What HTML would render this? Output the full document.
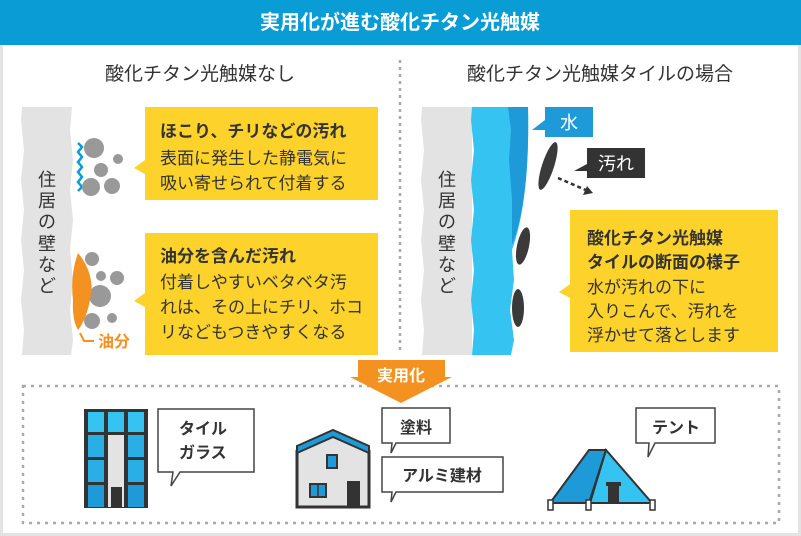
<!DOCTYPE html>
<html><head><meta charset="utf-8"><style>
body{margin:0;width:801px;height:536px;overflow:hidden;background:#fff;font-family:"Liberation Sans","Noto Sans CJK JP",sans-serif;}
</style></head><body>
<svg width="801" height="536" viewBox="0 0 801 536" xmlns="http://www.w3.org/2000/svg" style="font-family:'Liberation Sans','Noto Sans CJK JP',sans-serif;display:block">
<rect x="1.5" y="1.5" width="798" height="533" fill="#fff" stroke="#e3e3e3" stroke-width="3"/>
<rect x="0" y="0" width="801" height="45" fill="#0a9cd5"/>
<text x="400" y="29" font-size="20" font-weight="bold" fill="#fff" text-anchor="middle">実用化が進む酸化チタン光触媒</text>
<text x="200" y="80" font-size="19" fill="#333" text-anchor="middle">酸化チタン光触媒なし</text>
<text x="600" y="80" font-size="19" fill="#333" text-anchor="middle">酸化チタン光触媒タイルの場合</text>
<line x1="400" y1="60" x2="400" y2="352" stroke="#aaa" stroke-width="2.5" stroke-dasharray="3,4"/>

<!-- left wall -->
<path d="M22 107 L72 107 L70 130 L73 160 L70 190 L73 220 L70 250 L73 280 L70 310 L73 340 L71 355 L22 355 L24 330 L21 300 L24 270 L21 240 L24 210 L21 180 L24 150 L21 120 Z" fill="#e3e3e3"/>
<text font-size="18" fill="#333" text-anchor="middle"><tspan x="47" y="186">住</tspan><tspan x="47" y="207">居</tspan><tspan x="47" y="228">の</tspan><tspan x="47" y="250">壁</tspan><tspan x="47" y="271">な</tspan><tspan x="47" y="292">ど</tspan></text>
<path d="M78 143 l4 4 -4 5 4 5 -4 5 4 5 -4 5 4 5 -4 5 4 5 -4 4" fill="none" stroke="#0a9cd5" stroke-width="2.5"/>
<g fill="#999">
<circle cx="94" cy="148" r="10"/><circle cx="118" cy="159" r="5"/><circle cx="101" cy="170" r="7"/><circle cx="91" cy="187" r="9"/><circle cx="112" cy="186" r="8"/>
<circle cx="92" cy="259" r="7"/><circle cx="101" cy="276" r="5"/><circle cx="117" cy="278" r="7"/><circle cx="100" cy="296" r="11"/><circle cx="92" cy="321" r="8"/><circle cx="112" cy="318" r="5"/>
</g>
<path d="M78 253 Q96 275 90 300 Q86 320 78 330 Q72 320 73 300 Q70 275 78 253Z" fill="#f39220"/>
<path d="M80 333 L84 341 L94 341" fill="none" stroke="#f39220" stroke-width="2"/>
<text x="98" y="347" font-size="16" font-weight="bold" fill="#f39220">油分</text>

<rect x="145" y="107" width="233" height="93" fill="#fdd32b"/>
<path d="M145 160 L134 168 L145 174Z" fill="#fdd32b"/>
<text x="160" y="137" font-size="17" font-weight="bold" fill="#333">ほこり、チリなどの汚れ</text>
<text x="160" y="164" font-size="17" fill="#333">表面に発生した静電気に</text>
<text x="160" y="189" font-size="17" fill="#333">吸い寄せられて付着する</text>

<rect x="145" y="233" width="233" height="122" fill="#fdd32b"/>
<path d="M145 293 L134 301 L145 307Z" fill="#fdd32b"/>
<text x="160" y="262" font-size="17" font-weight="bold" fill="#333">油分を含んだ汚れ</text>
<text x="160" y="288" font-size="17" fill="#333">付着しやすいベタベタ汚</text>
<text x="160" y="313" font-size="17" fill="#333">れは、その上にチリ、ホコ</text>
<text x="160" y="338" font-size="17" fill="#333">リなどもつきやすくなる</text>

<!-- right wall -->
<path d="M422 107 L472 107 L472 355 L422 355 L424 330 L421 300 L424 270 L421 240 L424 210 L421 180 L424 150 L421 120 Z" fill="#e3e3e3"/>
<path d="M472 107 L528 107 Q530 200 512 250 L514 280 L510 310 L514 340 L511 355 L472 355 L474 330 L471 300 L474 270 L471 240 L474 210 L471 180 L474 150 L471 120Z" fill="#35c4f1"/>
<path d="M508 107 L528 107 Q530 200 512 245 L512 200 L509 160 L511 130Z" fill="#1e9ad8"/>
<text font-size="18" fill="#333" text-anchor="middle"><tspan x="447" y="186">住</tspan><tspan x="447" y="207">居</tspan><tspan x="447" y="228">の</tspan><tspan x="447" y="250">壁</tspan><tspan x="447" y="271">な</tspan><tspan x="447" y="292">ど</tspan></text>
<g fill="#3a3a3a">
<ellipse cx="548" cy="166" rx="6" ry="25" transform="rotate(18 548 166)"/>
<ellipse cx="523" cy="246" rx="6" ry="19" transform="rotate(12 523 246)"/>
<ellipse cx="518" cy="308" rx="6" ry="19"/>
</g>
<rect x="545" y="107" width="48" height="30" fill="#1e9ad8"/>
<path d="M545 120 L532 130 L545 130Z" fill="#1e9ad8"/>
<text x="569" y="129" font-size="18" fill="#fff" text-anchor="middle">水</text>
<rect x="587" y="148" width="58" height="30" fill="#333"/>
<path d="M587 164 L574 171 L587 171Z" fill="#333"/>
<text x="616" y="170" font-size="18" fill="#fff" text-anchor="middle">汚れ</text>
<line x1="558" y1="178" x2="588" y2="191" stroke="#333" stroke-width="2.5" stroke-dasharray="4,3"/>
<path d="M593 193 L583 195 L587 186Z" fill="#333"/>

<rect x="570" y="210" width="208" height="142" fill="#fdd32b"/>
<path d="M570 284 L559 292 L570 298Z" fill="#fdd32b"/>
<text x="587" y="244" font-size="17" font-weight="bold" fill="#333">酸化チタン光触媒</text>
<text x="587" y="268" font-size="17" font-weight="bold" fill="#333">タイルの断面の様子</text>
<text x="587" y="293" font-size="17" fill="#333">水が汚れの下に</text>
<text x="587" y="317" font-size="17" fill="#333">入りこんで、汚れを</text>
<text x="587" y="341" font-size="17" fill="#333">浮かせて落とします</text>

<!-- bottom -->
<rect x="23" y="386" width="756" height="137" fill="none" stroke="#aaa" stroke-width="2.5" stroke-dasharray="3,5"/>
<path d="M358 360 L445 360 L445 377 L452 377 L401 403 L350 377 L358 377Z" fill="#f39220"/>
<text x="401" y="381" font-size="16" font-weight="bold" fill="#fff" text-anchor="middle">実用化</text>

<!-- building -->
<rect x="84" y="409" width="64" height="99" fill="#333"/>
<rect x="88" y="412" width="16" height="20" fill="#35c4f1"/><rect x="108" y="412" width="16" height="20" fill="#35c4f1"/><rect x="128" y="412" width="16" height="20" fill="#35c4f1"/>
<rect x="88" y="435" width="16" height="22" fill="#2aaee6"/><rect x="128" y="435" width="16" height="22" fill="#2aaee6"/>
<rect x="88" y="460" width="16" height="22" fill="#2aaee6"/><rect x="128" y="460" width="16" height="22" fill="#2aaee6"/>
<rect x="88" y="485" width="16" height="22" fill="#1e9ad8"/><rect x="128" y="485" width="16" height="22" fill="#1e9ad8"/>
<rect x="108" y="435" width="16" height="72" fill="#e3e3e3"/>
<rect x="111" y="487" width="11" height="20" fill="#333"/>
<path d="M158 409 L254 409 L254 472 L180 472 L171 486 L173 472 L158 472Z" fill="#fff" stroke="#444" stroke-width="1.5"/>
<text x="179" y="434" font-size="16" font-weight="bold" fill="#333">タイル</text>
<text x="179" y="458" font-size="16" font-weight="bold" fill="#333">ガラス</text>

<!-- house -->
<path d="M297 451 L333 433 L369 451 L369 507 L297 507Z" fill="#e3e3e3" stroke="#333" stroke-width="3"/>
<path d="M297 446 L333 430 L369 446 L369 453 L333 437 L297 453Z" fill="#1e9ad8" stroke="#333" stroke-width="2"/>
<rect x="327" y="455" width="10" height="13" fill="#1e9ad8" stroke="#333" stroke-width="2"/>
<rect x="310" y="484" width="16" height="13" fill="#1e9ad8" stroke="#333" stroke-width="2"/>
<line x1="318" y1="484" x2="318" y2="497" stroke="#333" stroke-width="1.5"/>
<rect x="347" y="481" width="13" height="26" fill="#333"/>
<path d="M382 408 L450 408 L450 443 L396 443 L391 453 L392 443 L382 443Z" fill="#fff" stroke="#444" stroke-width="1.5"/>
<text x="416" y="433" font-size="16" font-weight="bold" fill="#333" text-anchor="middle">塗料</text>
<path d="M382 457 L503 457 L503 492 L396 492 L391 502 L392 492 L382 492Z" fill="#fff" stroke="#444" stroke-width="1.5"/>
<text x="442" y="481" font-size="16" font-weight="bold" fill="#333" text-anchor="middle">アルミ建材</text>

<!-- tent -->
<path d="M589 450 L606 450 L605 503 L550 503Z" fill="#1e9ad8" stroke="#333" stroke-width="2"/>
<path d="M606 450 L652 503 L589 503Z" fill="#35c4f1" stroke="#333" stroke-width="2"/>
<path d="M606 450 L590 503" stroke="#333" stroke-width="2"/>
<rect x="608" y="485" width="11" height="18" fill="#333"/>
<rect x="606" y="482" width="15" height="4" fill="#333"/>
<rect x="548" y="500" width="5" height="10" fill="#fff" stroke="#333" stroke-width="1.5"/>
<rect x="586" y="500" width="5" height="10" fill="#fff" stroke="#333" stroke-width="1.5"/>
<rect x="650" y="500" width="5" height="10" fill="#fff" stroke="#333" stroke-width="1.5"/>
<path d="M636 408 L715 408 L715 443 L655 443 L648 457 L649 443 L636 443Z" fill="#fff" stroke="#444" stroke-width="1.5"/>
<text x="676" y="433" font-size="16" font-weight="bold" fill="#333" text-anchor="middle">テント</text>
</svg>
</body></html>
